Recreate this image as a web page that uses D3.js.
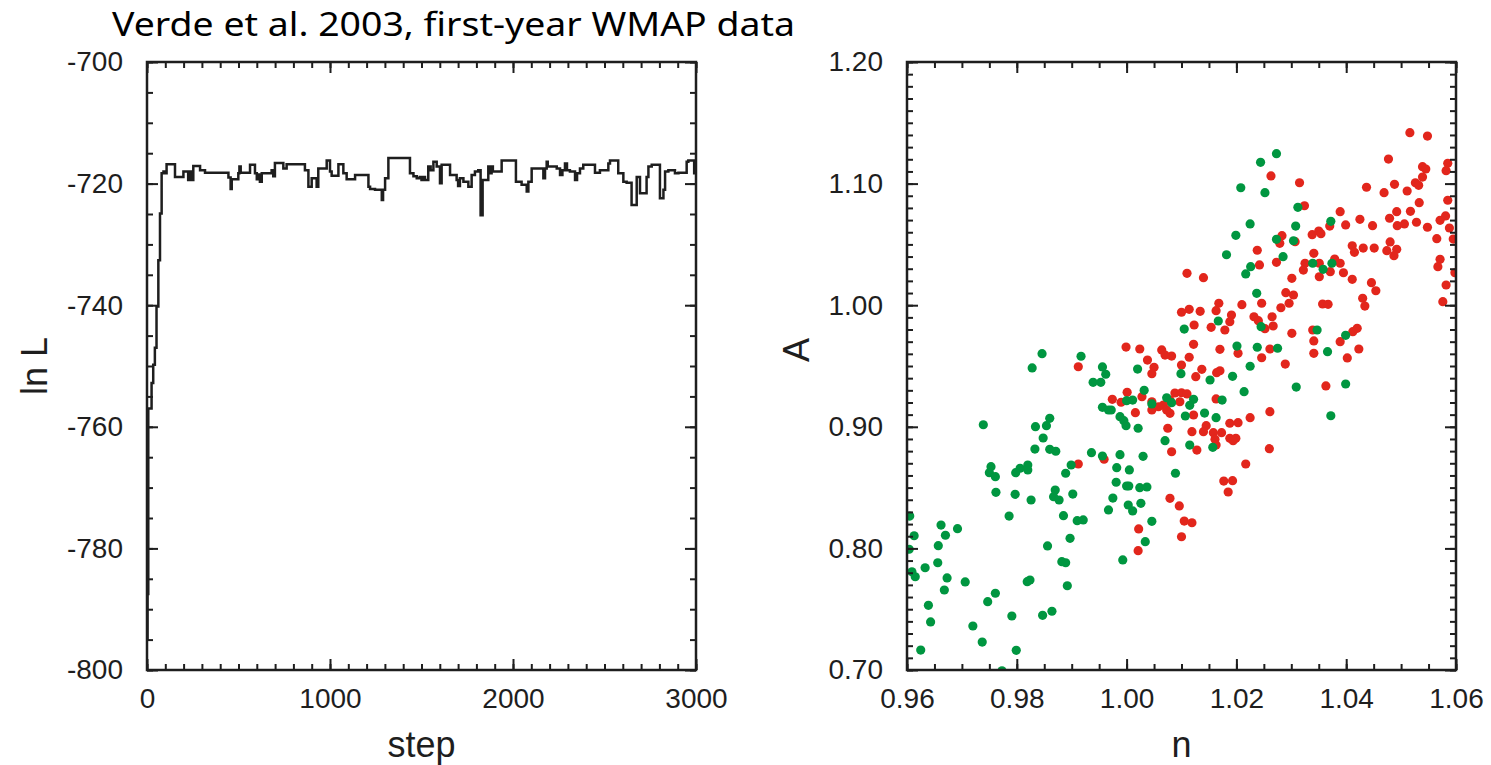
<!DOCTYPE html>
<html>
<head>
<meta charset="utf-8">
<script src="https://cdn.jsdelivr.net/npm/d3@7"></script>
<style>
  body { margin: 0; background: #fff; }
  svg { display: block; }
</style>
</head>
<body>
<div class="chart"></div>
<script>
// MCMC chain: [step, lnL] at each change of the chain value
var chainPoints = [
  [0, -795], [3, -787.5], [7, -757], [25, -752.8], [34, -749.8], [43, -747], [52, -740.2], [62, -732.6],
  [71, -724.9], [80, -718.3], [90, -718.0], [100, -718.3], [107, -716.8], [153, -718.9], [199, -718.0],
  [225, -719.4], [235, -718.0], [244, -719.4], [253, -717.1], [290, -717.8], [317, -718.2], [445, -719.0],
  [457, -720.9], [463, -719.3], [499, -718.3], [505, -717.2], [512, -718.2], [563, -716.9], [590, -718.3],
  [600, -719.3], [608, -718.5], [617, -719.7], [627, -718.3], [681, -717.8], [690, -718.8], [699, -716.6],
  [745, -717.5], [763, -716.8], [863, -717.8], [882, -720.5], [900, -719.1], [927, -720.5], [936, -717.5],
  [982, -716.2], [1000, -718.0], [1009, -718.7], [1046, -716.8], [1073, -718.3], [1091, -719.3], [1137, -718.6],
  [1210, -720.5], [1219, -720.9], [1246, -721.0], [1283, -722.7], [1290, -721.0], [1301, -719.1], [1319, -715.8],
  [1437, -718.3], [1456, -718.8], [1474, -719.1], [1490, -718.9], [1500, -719.4], [1510, -718.9], [1519, -719.4],
  [1537, -717.2], [1550, -717.8], [1565, -716.4], [1583, -717.2], [1601, -719.95], [1610, -716.9], [1656, -718.6],
  [1692, -719.4], [1700, -720.4], [1710, -719.1], [1729, -719.7], [1756, -720.5], [1774, -718.6], [1792, -718.0],
  [1810, -717.8], [1823, -725.2], [1834, -719.4], [1865, -717.2], [1875, -718.3], [1883, -717.2], [1890, -718.0],
  [1938, -716.2], [2016, -719.7], [2047, -720.2], [2075, -721.3], [2084, -719.7], [2102, -717.5], [2166, -719.1],
  [2175, -717.5], [2184, -716.4], [2190, -717.2], [2239, -717.5], [2257, -718.6], [2270, -717.8], [2284, -716.7],
  [2295, -717.8], [2311, -718.0], [2339, -719.4], [2350, -718.3], [2366, -717.5], [2384, -716.9], [2448, -718.2],
  [2475, -717.8], [2521, -716.7], [2530, -716.2], [2575, -718.3], [2603, -719.7], [2621, -719.85], [2648, -723.5],
  [2676, -718.9], [2694, -721.6], [2730, -718.9], [2740, -717.2], [2758, -716.9], [2803, -722.4], [2822, -721.0],
  [2831, -718.0], [2849, -717.8], [2885, -718.3], [2904, -718.2], [2949, -716.4], [2958, -716.2], [2990, -718.3],
  [3000, -718.3]
];

// samples, [n, A]
var greenPoints = [
  [1.0273,1.1246],[1.0244,1.1175],[1.0208,1.0966],[1.0252,1.0925],[1.0312,1.0805],[1.0225,1.0668],[1.0308,1.0651],
  [1.0372,1.0690],[1.0199,1.0575],[1.0273,1.0542],[1.0304,1.0530],[1.0182,1.0415],[1.0285,1.0399],[1.0226,1.0317],
  [1.0217,1.0257],[1.0339,1.0345],[1.0358,1.0295],[1.0374,1.0345],[1.0237,1.0098],[1.0167,0.9870],[1.0105,0.9804],
  [1.0245,0.9823],[1.0347,0.9796],[1.0399,0.9752],[1.0201,0.9664],[1.0238,0.9654],[1.0275,0.9646],[1.0366,0.9618],
  [1.0225,0.9498],[1.0099,0.9437],[1.0193,0.9415],[1.0152,0.9385],[1.0309,0.9327],[1.0399,0.9352],[1.0214,0.9289],
  [1.0122,0.9226],[1.0174,0.9220],[1.0082,0.9198],[1.0115,0.9177],[1.0142,0.9113],[1.0107,0.9089],[1.0163,0.9075],
  [1.0372,0.9091],[1.0115,0.8850],[1.0157,0.8831],[1.0089,0.8618],
  [0.9846,0.9601],[0.9828,0.9484],[0.9917,0.9580],[0.9956,0.9492],[0.9962,0.9432],[1.0020,0.9475],[0.9939,0.9366],
  [0.9953,0.9366],[1.0032,0.9300],[1.0000,0.9215],[1.0011,0.9220],[1.0073,0.9239],[1.0046,0.9188],[0.9956,0.9160],
  [0.9967,0.9138],[0.9972,0.9138],[0.9988,0.9083],[0.9995,0.9050],[0.9999,0.9009],[1.0021,0.8988],[1.0070,0.8886],
  [0.9739,0.9017],[0.9834,0.9001],[0.9854,0.9009],[0.9860,0.9070],[0.9848,0.8908],[0.9833,0.8817],[0.9860,0.8815],
  [0.9871,0.8799],[0.9936,0.8787],[0.9956,0.8760],[0.9988,0.8771],[1.0030,0.8757],
  [0.9899,0.8686],[0.9889,0.8618],[0.9982,0.8664],[1.0005,0.8645],[0.9753,0.8672],[0.9750,0.8623],[0.9761,0.8590],
  [0.9798,0.8623],[0.9806,0.8659],[0.9820,0.8686],[0.9820,0.8645],[0.9870,0.8480],[0.9867,0.8425],[0.9877,0.8398],
  [0.9902,0.8447],[0.9797,0.8445],[0.9762,0.8461],[0.9826,0.8398],[0.9981,0.8544],[1.0000,0.8513],[1.0004,0.8513],
  [1.0024,0.8499],[1.0037,0.8505],[0.9975,0.8414],[1.0003,0.8357],[1.0011,0.8308],[1.0026,0.8371],[0.9967,0.8316],
  [1.0046,0.8223],[1.0034,0.8055],[0.9993,0.7905],[0.9885,0.8269],[0.9910,0.8228],[0.9921,0.8234],[0.9897,0.8083],
  [0.9856,0.8020],[0.9882,0.7891],[0.9889,0.7882],[0.9892,0.7693],[0.9786,0.8266],[0.9605,0.8266],[0.9662,0.8192],
  [0.9692,0.8162],[0.9613,0.8104],[0.9670,0.8108],[0.9657,0.8022],[0.9604,0.7993],[0.9656,0.7882],[0.9609,0.7808],
  [0.9615,0.7767],[0.9633,0.7841],[0.9673,0.7757],[0.9668,0.7658],[0.9706,0.7724],[0.9819,0.7726],[0.9824,0.7740],
  [0.9761,0.7631],[0.9747,0.7562],[0.9639,0.7532],[0.9643,0.7395],[0.9791,0.7444],[0.9847,0.7450],[0.9864,0.7483],
  [0.9720,0.7362],[0.9737,0.7230],[0.9625,0.7164],[0.9799,0.7162],[0.9773,0.6994]
];

var redPoints = [
  [1.0516,1.1419],[1.0548,1.1391],[1.0477,1.1202],[1.0263,1.1063],[1.0315,1.1007],[1.0539,1.1139],[1.0545,1.1120],
  [1.0585,1.1167],[1.0582,1.1106],[1.0539,1.1054],[1.0526,1.1007],[1.0532,1.0986],[1.0437,1.0970],[1.0488,1.0994],
  [1.0469,1.0925],[1.0511,1.0939],[1.0324,1.0818],[1.0585,1.0863],[1.0533,1.0843],[1.0389,1.0769],[1.0492,1.0769],
  [1.0517,1.0772],[1.0479,1.0715],[1.0425,1.0706],[1.0399,1.0660],[1.0448,1.0654],[1.0493,1.0654],[1.0506,1.0668],
  [1.0528,1.0682],[1.0581,1.0734],[1.0571,1.0698],[1.0548,1.0641],[1.0588,1.0635],[1.0283,1.0572],[1.0279,1.0509],
  [1.0307,1.0522],[1.0338,1.0580],[1.0350,1.0610],[1.0354,1.0588],[1.0370,1.0651],[1.0565,1.0547],[1.0595,1.0544],
  [1.0480,1.0520],[1.0411,1.0489],[1.0415,1.0435],[1.0431,1.0470],[1.0451,1.0470],[1.0474,1.0448],[1.0492,1.0460],
  [1.0487,1.0407],[1.0238,1.0452],[1.0341,1.0427],[1.0379,1.0380],[1.0571,1.0377],
  [1.0242,1.0331],[1.0273,1.0353],[1.0325,1.0345],[1.0322,1.0289],[1.0351,1.0345],[1.0371,1.0276],[1.0389,1.0345],
  [1.0395,1.0267],[1.0351,1.0234],[1.0411,1.0213],[1.0567,1.0317],[1.0598,1.0267],[1.0110,1.0262],[1.0140,1.0226],
  [1.0301,1.0221],[1.0446,1.0185],[1.0454,1.0119],[1.0582,1.0166],[1.0576,1.0029],[1.0290,1.0103],[1.0304,1.0084],
  [1.0430,1.0057],[1.0434,0.9993],[1.0357,1.0010],[1.0367,1.0007],[1.0168,1.0016],[1.0163,0.9955],[1.0210,1.0004],
  [1.0246,1.0016],[1.0296,1.0016],[1.0281,0.9979],[1.0114,0.9966],[1.0100,0.9942],[1.0134,0.9950],[1.0191,0.9919],
  [1.0188,0.9864],[1.0232,0.9905],[1.0240,0.9873],[1.0265,0.9905],[1.0267,0.9829],[1.0123,0.9837],[1.0154,0.9818],
  [1.0179,0.9796],[1.0252,0.9807],[1.0301,0.9769],[1.0339,0.9796],[1.0341,0.9706],[1.0341,0.9604],[1.0389,0.9700],
  [1.0412,0.9782],[1.0420,0.9810],[1.0423,0.9640],[1.0402,0.9566],[1.0122,0.9678],[1.0170,0.9637],[1.0203,0.9604],
  [1.0261,0.9640],[1.0246,0.9568],[1.0289,0.9516],[1.0082,0.9582],[1.0114,0.9572],[1.0100,0.9508],[1.0137,0.9473],
  [1.0126,0.9412],[1.0170,0.9461],[1.0164,0.9445],[1.0363,0.9336],[1.0088,0.9278],[1.0100,0.9280],[1.0110,0.9270],
  [1.0097,0.9206],[1.0079,0.9220],[1.0163,0.9229],[1.0079,0.9111],[1.0122,0.9097],[1.0225,0.9075],[1.0261,0.9124],
  [1.0188,0.9029],[1.0203,0.9034],[1.0145,0.9009],[1.0140,0.8960],[1.0119,0.8960],[1.0158,0.8952],[1.0173,0.8952],
  [1.0188,0.8905],[1.0199,0.8905],[1.0194,0.8886],[1.0161,0.8897],[1.0163,0.8850],[1.0128,0.8809],[1.0082,0.8795],
  [1.0260,0.8820],
  [1.0217,0.8694],[1.0177,0.8554],[1.0193,0.8557],[1.0185,0.8464],[1.0079,0.8412],[1.0096,0.8349],[1.0105,0.8225],
  [1.0119,0.8211],[1.0100,0.8096],
  [0.9999,0.9656],[1.0024,0.9640],[1.0064,0.9632],[1.0070,0.9590],[1.0038,0.9549],[1.0050,0.9489],[1.0046,0.9437],
  [0.9912,0.9494],[1.0001,0.9284],[0.9974,0.9226],[0.9990,0.9202],[1.0028,0.9248],[1.0046,0.9206],[1.0046,0.9138],
  [1.0058,0.9165],[1.0067,0.9179],[1.0073,0.9138],[1.0016,0.9116],[1.0075,0.8988],[0.9959,0.8733],
  [0.9912,0.8694],[1.0022,0.8160],[1.0021,0.7981]
];

var stepTicks = [0, 1000, 2000, 3000];
var lnLTicks = [-800, -780, -760, -740, -720, -700];
var nTicks = [0.96, 0.98, 1.00, 1.02, 1.04, 1.06];
var aTicks = [0.70, 0.80, 0.90, 1.00, 1.10, 1.20];

var titleText = "Verde et al. 2003, first-year WMAP data";

var svgW = 1491;
var svgH = 765;
var plotW = 549;
var plotH = 608;
var plotTop = 62;
var leftX0 = 147;
var rightX0 = 907;

var ink = "#1e1e1e";
var labelFont = "'Liberation Sans', Arial, Helvetica, sans-serif";

var svg = d3.select('.chart')
    .append('svg')
    .attr('width', svgW)
    .attr('height', svgH);

var defs = svg.append('defs');

function makePanel(x0, clipId) {
    defs.append('clipPath')
        .attr('id', clipId)
        .append('rect')
        .attr('width', plotW)
        .attr('height', plotH);
    return svg.append('g')
        .attr('transform', 'translate(' + x0 + ',' + plotTop + ')');
}

function tickLayer(g, axis, transform, isLabelled) {
    var a = g.append('g').attr('color', ink);
    if (transform) a.attr('transform', transform);
    a.call(axis);
    a.select('.domain').remove();
    a.selectAll('line').attr('stroke-width', 2);
    if (isLabelled) {
        a.attr('font-size', 28).attr('font-family', labelFont);
        a.selectAll('text').attr('fill', ink);
    }
    return a;
}

function frameAxes(g, xS, yS, xMajor, xMinor, yMajor, yMinor, xFmt, yFmt) {
    var big = -11, small = -6;
    // minor ticks on all four sides
    tickLayer(g, d3.axisBottom(xS).tickValues(xMinor).tickSize(small).tickFormat(''), 'translate(0,' + plotH + ')');
    tickLayer(g, d3.axisTop(xS).tickValues(xMinor).tickSize(small).tickFormat(''));
    tickLayer(g, d3.axisLeft(yS).tickValues(yMinor).tickSize(small).tickFormat(''));
    tickLayer(g, d3.axisRight(yS).tickValues(yMinor).tickSize(small).tickFormat(''), 'translate(' + plotW + ',0)');
    // major ticks, labelled on bottom and left
    tickLayer(g, d3.axisBottom(xS).tickValues(xMajor).tickSize(big).tickPadding(18).tickFormat(xFmt),
        'translate(0,' + plotH + ')', true);
    tickLayer(g, d3.axisTop(xS).tickValues(xMajor).tickSize(big).tickFormat(''));
    tickLayer(g, d3.axisLeft(yS).tickValues(yMajor).tickSize(big).tickPadding(24).tickFormat(yFmt), null, true);
    tickLayer(g, d3.axisRight(yS).tickValues(yMajor).tickSize(big).tickFormat(''), 'translate(' + plotW + ',0)');

    g.append('rect')
        .attr('width', plotW)
        .attr('height', plotH)
        .attr('fill', 'none')
        .attr('stroke', ink)
        .attr('stroke-width', 2.5);
}

// plain hyphen for negatives, like the original
function plainInt(d) { return String(Math.round(d)); }
function twoDec(d) { return d.toFixed(2); }

// ---------- left panel: lnL trace ----------
var gL = makePanel(leftX0, 'clipL');

var xStep = d3.scaleLinear().domain([0, 3000]).range([0, plotW]);
var yLnL = d3.scaleLinear().domain([-800, -700]).range([plotH, 0]);

var traceLine = d3.line()
    .x(function(d) { return xStep(d[0]); })
    .y(function(d) { return yLnL(d[1]); })
    .curve(d3.curveStepAfter);

gL.append('path')
    .datum(chainPoints)
    .attr('clip-path', 'url(#clipL)')
    .attr('d', traceLine)
    .attr('fill', 'none')
    .attr('stroke', ink)
    .attr('stroke-width', 2.5);

frameAxes(gL, xStep, yLnL,
    stepTicks, d3.range(0, 3001, 100),
    lnLTicks, d3.range(-800, -699, 5),
    plainInt, plainInt);

// ---------- right panel: A vs n ----------
var gR = makePanel(rightX0, 'clipR');

var xN = d3.scaleLinear().domain([0.96, 1.06]).range([0, plotW]);
var yA = d3.scaleLinear().domain([0.70, 1.20]).range([plotH, 0]);

var dots = gR.append('g').attr('clip-path', 'url(#clipR)');

dots.selectAll('circle.red')
    .data(redPoints)
    .enter()
    .append('circle')
    .attr('class', 'red')
    .attr('cx', function(d) { return xN(d[0]); })
    .attr('cy', function(d) { return yA(d[1]); })
    .attr('r', 4.6)
    .attr('fill', '#e2261c');

dots.selectAll('circle.green')
    .data(greenPoints)
    .enter()
    .append('circle')
    .attr('class', 'green')
    .attr('cx', function(d) { return xN(d[0]); })
    .attr('cy', function(d) { return yA(d[1]); })
    .attr('r', 4.6)
    .attr('fill', '#009640');

frameAxes(gR, xN, yA,
    nTicks, d3.range(0, 21).map(function(i) { return 0.96 + i * 0.005; }),
    aTicks, d3.range(0, 51).map(function(i) { return 0.70 + i * 0.01; }),
    twoDec, twoDec);

// ---------- titles ----------
svg.append('text')
    .attr('x', 112)
    .attr('y', 36)
    .attr('font-family', "'Noto Sans', sans-serif")
    .attr('font-size', 33)
    .attr('textLength', 683)
    .attr('lengthAdjust', 'spacingAndGlyphs')
    .attr('fill', '#000')
    .text(titleText);

var axisTitles = [
    { text: 'step', x: leftX0 + plotW / 2, y: 757, rot: false },
    { text: 'n', x: rightX0 + plotW / 2, y: 757, rot: false },
    { text: 'ln L', x: 47, y: plotTop + plotH / 2, rot: true },
    { text: 'A', x: 809, y: plotTop + 288, rot: true }
];

svg.selectAll('text.axis-title')
    .data(axisTitles)
    .enter()
    .append('text')
    .attr('class', 'axis-title')
    .attr('transform', function(d) {
        return 'translate(' + d.x + ',' + d.y + ')' + (d.rot ? ' rotate(-90)' : '');
    })
    .attr('text-anchor', 'middle')
    .attr('font-family', labelFont)
    .attr('font-size', 36)
    .attr('fill', ink)
    .text(function(d) { return d.text; });
</script>
</body>
</html>
